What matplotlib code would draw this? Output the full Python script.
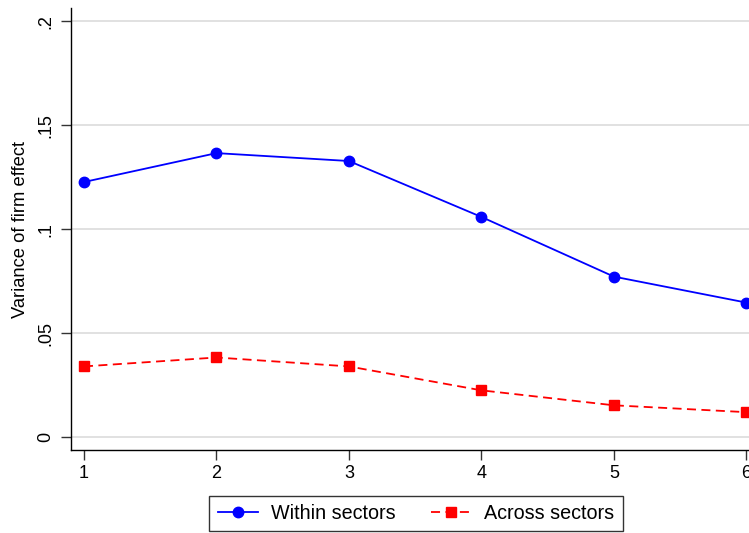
import matplotlib
matplotlib.use('Agg')
import matplotlib.pyplot as plt

plt.rcParams['font.family'] = ['Liberation Sans', 'DejaVu Sans']

periods = [1, 2, 3, 4, 5, 6]
within_sectors = [0.1227, 0.1366, 0.1328, 0.1059, 0.0772, 0.0647]
across_sectors = [0.0340, 0.0383, 0.0340, 0.0225, 0.0153, 0.0120]
y_ticks = [0, 0.05, 0.1, 0.15, 0.2]
y_tick_labels = ['0', '.05', '.1', '.15', '.2']


def main():
    fig = plt.figure(figsize=(7.49, 5.33), dpi=100)
    ax = fig.add_axes([71 / 749, 1 - 450 / 533, 678 / 749, 442 / 533])

    for y in y_ticks:
        ax.axhline(y, color='#d9d9d9', linewidth=1.1, zorder=0)

    ax.plot(periods, within_sectors, '-o', color='#0000ff', linewidth=1.3,
            markersize=7.5, label='Within sectors', clip_on=False, zorder=3)
    ax.plot(periods, across_sectors, '--s', color='#ff0000', linewidth=1.3,
            markersize=7, dashes=(5, 3), label='Across sectors',
            clip_on=False, zorder=3)

    ax.set_xlim(0.902, 6.02)
    ax.set_ylim(-0.0062, 0.2064)
    ax.set_xticks(periods)
    ax.set_yticks(y_ticks)
    ax.set_yticklabels(y_tick_labels, rotation=90, va='center')
    ax.tick_params(axis='both', direction='out', length=7, width=1,
                   labelsize=13, color='#333333')
    ax.tick_params(axis='y', pad=5)
    ax.set_ylabel('Variance of firm effect', fontsize=13.2, labelpad=6)

    for side in ['top', 'right']:
        ax.spines[side].set_visible(False)
    for side in ['left', 'bottom']:
        ax.spines[side].set_linewidth(1)

    leg = fig.legend(loc='center', bbox_to_anchor=(416 / 749, 1 - 513.5 / 533),
                     ncol=2, fontsize=14.2, frameon=True, fancybox=False,
                     edgecolor='black', handlelength=2.05, handletextpad=0.65,
                     columnspacing=1.8, borderpad=0.42, borderaxespad=0)
    leg.get_frame().set_linewidth(1)

    fig.savefig('out.png', dpi=100)


if __name__ == "__main__":
    main()
